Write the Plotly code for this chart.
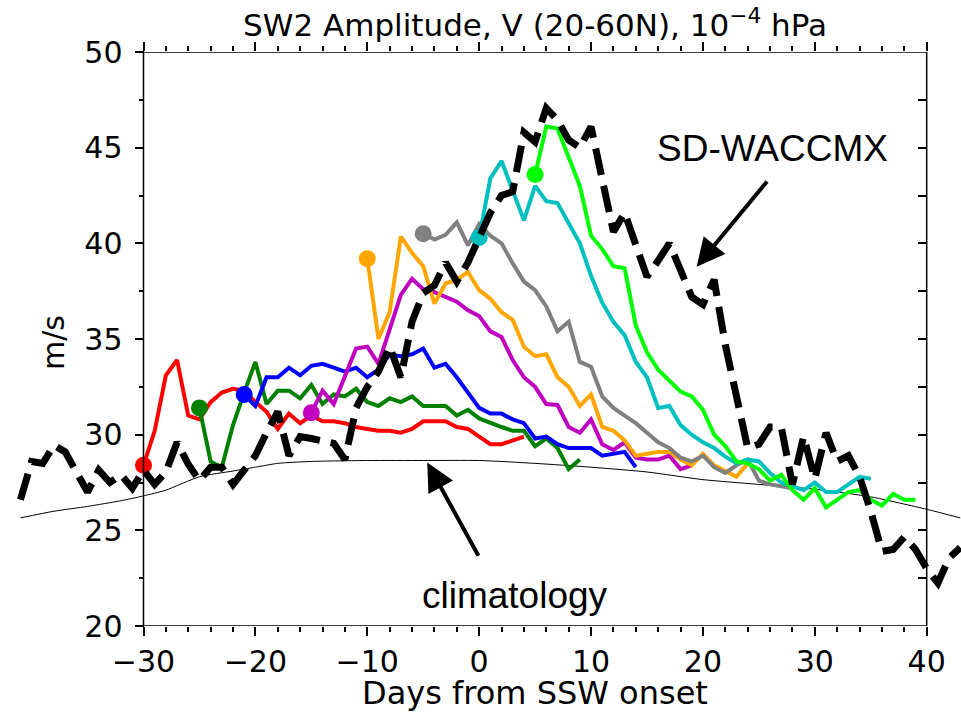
import plotly.graph_objects as go

# ---------------- data ----------------
red_start = -30
red_vals = [28.4, 30.2, 33.1, 33.9, 31.0, 30.8, 31.7, 32.2, 32.4, 32.3, 31.7, 31.2, 30.3, 31.1,
            30.6, 31.0, 30.7, 30.7, 30.6, 30.4, 30.3, 30.2, 30.2, 30.1, 30.3, 30.7, 30.7, 30.7,
            30.4, 30.3, 29.9, 29.5, 29.5, 29.7, 29.9]
green_start = -25
green_vals = [31.4, 28.6, 28.3, 30.5, 32.2, 33.8, 31.6, 32.3, 32.3, 31.9, 32.6, 31.6, 32.1, 32.0,
              32.4, 31.7, 31.5, 31.9, 31.7, 32.0, 31.5, 31.5, 31.5, 31.0, 31.3, 30.85, 30.6, 30.4,
              30.2, 30.2, 29.4, 29.8, 29.3, 28.2, 28.7]
blue_start = -21
blue_vals = [32.1, 31.5, 33.0, 33.0, 33.5, 33.1, 33.6, 33.7, 33.5, 33.3, 33.5, 33.0, 33.4, 34.2,
             34.1, 34.2, 34.5, 33.5, 33.7, 33.0, 32.2, 31.4, 31.1, 31.1, 30.8, 30.6, 29.8, 29.9,
             29.5, 29.3, 29.3, 29.3, 28.9, 29.0, 29.1, 28.3]
magenta_start = -15
magenta_vals = [31.15, 32.3, 31.6, 33.0, 34.5, 34.6, 33.7, 35.5, 37.3, 38.15, 37.6, 37.45, 37.2,
                36.95, 36.5, 36.2, 35.4, 35.1, 33.9, 33.0, 32.5, 31.6, 31.55, 30.4, 30.1, 30.8,
                29.5, 29.2, 29.6, 28.8, 28.7, 28.7, 28.9, 28.2, 28.4]
orange_start = -10
orange_vals = [39.2, 35.0, 36.4, 40.35, 39.5, 38.8, 36.85, 37.9, 38.1, 38.5, 37.55, 37.1, 36.4,
               36.0, 34.6, 34.1, 34.2, 33.0, 32.5, 31.5, 32.1, 30.4, 30.2, 29.7, 28.9, 29.0, 29.1,
               29.1, 28.7, 28.4, 29.0, 28.4, 28.1, 27.8, 28.5]
gray_start = -5
gray_vals = [40.5, 40.2, 40.45, 41.1, 39.9, 41.0, 40.4, 40.0, 38.95, 38.0, 37.55, 36.7, 35.4, 35.9,
             33.8, 33.55, 32.0, 31.4, 31.0, 30.6, 30.1, 29.6, 29.3, 28.8, 28.6, 28.9, 28.3, 28.0,
             28.4, 28.7, 27.6, 27.4, 27.3, 27.2]
cyan_start = 0
cyan_vals = [40.3, 43.4, 44.3, 42.8, 41.2, 43.0, 42.2, 42.1, 41.05, 40.0, 38.3, 36.9, 35.9, 35.2,
             33.8, 33.0, 31.4, 31.5, 30.5, 30.0, 29.6, 29.3, 28.85, 28.5, 28.7, 28.6, 28.0, 27.5,
             27.3, 27.1, 27.5, 27.0, 27.0, 27.4, 27.8, 27.7]
lime_start = 5
lime_vals = [43.6, 46.1, 46.0, 44.5, 43.0, 40.4, 39.7, 38.8, 38.7, 35.7, 34.3, 33.4, 32.8, 32.25,
             32.0, 31.3, 30.0, 29.4, 28.6, 28.5, 28.2, 27.6, 27.9, 27.1, 26.6, 27.2, 26.2, 26.6,
             27.0, 27.1, 26.6, 26.3, 26.9, 26.6, 26.6]

sd_start = -41
sd_vals = [26.6, 28.6, 28.5, 29.45, 29.1, 28.1, 27.0, 28.15, 27.5, 27.9, 27.2, 28.15, 27.4, 28.05,
           29.6, 28.45, 27.6, 28.3, 28.3, 27.4, 28.2, 28.9, 30.1, 31.2, 28.9, 29.9, 29.8, 29.7,
           29.55, 28.7, 31.4, 32.5, 33.3, 34.6, 33.0, 35.9, 37.4, 37.8, 39.0, 38.0, 39.0, 40.3,
           41.6, 42.5, 42.7, 45.8, 45.3, 47.07, 46.45, 45.4, 45.0, 46.1, 43.4, 40.6, 41.6, 39.9,
           38.25, 39.1, 40.0, 38.6, 37.2, 36.8, 38.1, 34.7, 32.0, 29.3, 29.5, 30.4, 30.4, 27.4,
           29.9, 27.7, 30.1, 28.6, 28.9, 27.8, 26.0, 23.9, 24.0, 24.65, 24.0, 23.0, 22.25, 23.55,
           24.1]

clim_days = [-41, -38, -35, -32, -30, -28, -25, -22, -20, -18, -15, -10, -5, 0, 5, 10, 15, 20,
             25, 30, 35, 40, 43]
clim_vals = [25.65, 26.0, 26.25, 26.55, 26.8, 27.1, 27.8, 28.1, 28.3, 28.5, 28.6, 28.65, 28.65,
             28.65, 28.5, 28.3, 28.05, 27.65, 27.4, 27.15, 26.75, 26.1, 25.65]

x_ticks = [-30, -20, -10, 0, 10, 20, 30, 40]
x_minor = [-28, -26, -24, -22, -18, -16, -14, -12, -8, -6, -4, -2, 2, 4, 6, 8, 12, 14, 16, 18,
           22, 24, 26, 28, 32, 34, 36, 38]
y_ticks = [20, 25, 30, 35, 40, 45, 50]
y_minor = [22.5, 27.5, 32.5, 37.5, 42.5, 47.5]
y_right_ticks = [20, 22.5, 25, 27.5, 30, 32.5, 35, 37.5, 40, 42.5, 45, 47.5, 50]

series = [
    (red_start, red_vals, "#ff0000"),
    (green_start, green_vals, "#008000"),
    (blue_start, blue_vals, "#0000ff"),
    (magenta_start, magenta_vals, "#bf00bf"),
    (orange_start, orange_vals, "#ffa500"),
    (gray_start, gray_vals, "#808080"),
    (cyan_start, cyan_vals, "#00bfbf"),
    (lime_start, lime_vals, "#00ff00"),
]

# ---------------- layout geometry ----------------
W, H = 961, 716
PX_L, PX_R = 143.5, 926.7        # pixel positions of x=-30 and x=40
X0, X1 = -30, 40
scale = (PX_R - PX_L) / (X1 - X0)
xr = [X0 - PX_L / scale, X1 + (W - PX_R) / scale]
TOP, BOT = 52, 626

FONT = "DejaVu Sans"
ARIAL = "Liberation Sans, Arial"

fig = go.Figure()

fig.add_trace(go.Scatter(x=clim_days, y=clim_vals, mode="lines",
                         line=dict(color="black", width=1, shape="spline", smoothing=0.6),
                         showlegend=False, hoverinfo="skip"))

for start, vals, col in series:
    days = [start + i for i in range(len(vals))]
    fig.add_trace(go.Scatter(x=days, y=vals, mode="lines", line=dict(color=col, width=4),
                             showlegend=False))
    fig.add_trace(go.Scatter(x=days[:1], y=vals[:1], mode="markers",
                             marker=dict(color=col, size=17), showlegend=False))

sd_days = [sd_start + i for i in range(len(sd_vals))]
fig.add_trace(go.Scatter(x=sd_days, y=sd_vals, mode="lines",
                         line=dict(color="black", width=7, dash="27px,11px"),
                         showlegend=False))

# empty trace so that the overlay axes (top / right) are drawn
fig.add_trace(go.Scatter(x=[], y=[], xaxis="x2", yaxis="y2", showlegend=False))

tick_common = dict(showgrid=False, zeroline=False, showline=False, tickcolor="black",
                   tickwidth=1.5)

fig.update_layout(
    width=W, height=H,
    margin=dict(l=0, r=0, t=TOP, b=H - BOT, pad=0),
    paper_bgcolor="white", plot_bgcolor="white",
    title=dict(text="SW2 Amplitude, V (20-60N), 10<sup>\u22124</sup> hPa",
               x=(PX_L + PX_R) / 2 / W, xanchor="center", xref="paper",
               y=1 - 25 / H, yanchor="middle", yref="container",
               font=dict(family=FONT, size=31, color="black")),
    xaxis=dict(range=xr, domain=[0, 1], anchor="y", tickmode="array", tickvals=x_ticks,
               ticks="outside", ticklen=9, tickfont=dict(family=FONT, size=30, color="black"),
               minor=dict(tickmode="array", tickvals=x_minor, ticks="outside", ticklen=5,
                          tickcolor="black", tickwidth=1.5),
               ticklabelstandoff=0, **tick_common),
    xaxis2=dict(range=xr, overlaying="x", side="top", anchor="y", tickmode="array",
                tickvals=x_ticks, ticks="outside", ticklen=9, showticklabels=False,
                minor=dict(tickmode="array", tickvals=x_minor, ticks="outside", ticklen=5,
                           tickcolor="black", tickwidth=1.5),
                **tick_common),
    yaxis=dict(range=[20, 50], domain=[0, 1], anchor="free", position=PX_L / W,
               tickmode="array", tickvals=y_ticks, ticks="outside", ticklen=9,
               tickfont=dict(family=FONT, size=30, color="black"),
               minor=dict(tickmode="array", tickvals=y_minor, ticks="outside", ticklen=5,
                          tickcolor="black", tickwidth=1.5),
               ticklabelstandoff=6, **tick_common),
    yaxis2=dict(range=[20, 50], overlaying="y", anchor="free", position=PX_R / W, side="right",
                tickmode="array", tickvals=y_right_ticks, ticks="inside", ticklen=9,
                showticklabels=False, **tick_common),
)

# frame of the axes box
fig.add_shape(type="rect", xref="x", yref="y", x0=X0, x1=X1, y0=20, y1=50,
              line=dict(color="black", width=1.5), layer="above")

# axis titles
fig.add_annotation(text="Days from SSW onset", xref="paper", yref="paper",
                   x=(PX_L + PX_R) / 2 / W, y=-(693 - BOT) / (BOT - TOP),
                   showarrow=False, xanchor="center", yanchor="middle",
                   font=dict(family=FONT, size=32, color="black"))
fig.add_annotation(text="m/s", xref="paper", yref="paper", x=54 / W,
                   y=(BOT - 343) / (BOT - TOP), textangle=-90, showarrow=False,
                   xanchor="center", yanchor="middle",
                   font=dict(family=FONT, size=30, color="black"))

# labels and arrows
fig.add_annotation(text="SD-WACCMX", x=26.25, y=44.96, xref="x", yref="y", showarrow=False,
                   xanchor="center", yanchor="middle",
                   font=dict(family=ARIAL, size=37, color="black"))
fig.add_annotation(text="climatology", x=3.2, y=21.6, xref="x", yref="y", showarrow=False,
                   xanchor="center", yanchor="middle",
                   font=dict(family=ARIAL, size=37, color="black"))
fig.add_annotation(text="", x=19.44, y=38.78, xref="x", yref="y", ax=71.6, ay=-86.7,
                   showarrow=True, arrowhead=2, arrowsize=1.4, arrowwidth=4,
                   arrowcolor="black", standoff=0)
fig.add_annotation(text="", x=-4.64, y=28.54, xref="x", yref="y", ax=52, ay=94.6,
                   showarrow=True, arrowhead=2, arrowsize=1.4, arrowwidth=4,
                   arrowcolor="black", standoff=0)

fig.write_html("out.html", config={"displayModeBar": False},
               post_script="document.body.style.margin='0px';"
                           "document.body.style.overflow='hidden';")
